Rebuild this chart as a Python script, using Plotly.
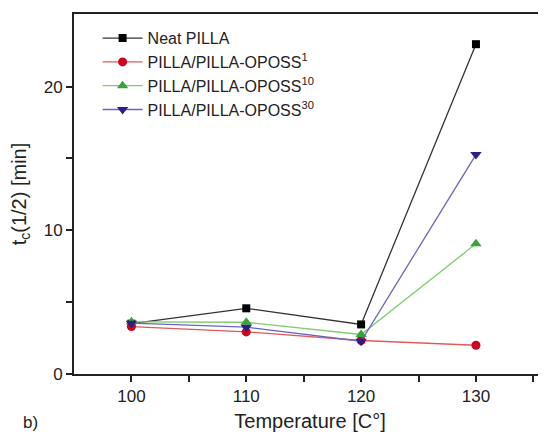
import plotly.graph_objects as go

temperature = [100, 110, 120, 130]
neat_pilla = [3.5, 4.57, 3.45, 22.95]
oposs_1 = [3.3, 2.93, 2.33, 2.0]
oposs_10 = [3.63, 3.6, 2.75, 9.06]
oposs_30 = [3.54, 3.26, 2.28, 15.27]

series = [
    ("Neat PILLA", neat_pilla, "#333333", "#000000", "square", 8),
    ("PILLA/PILLA-OPOSS<sup>1</sup>", oposs_1, "#e05a5a", "#d0021b", "circle", 9),
    ("PILLA/PILLA-OPOSS<sup>10</sup>", oposs_10, "#7fcc6e", "#3aa33a", "triangle-up", 10),
    ("PILLA/PILLA-OPOSS<sup>30</sup>", oposs_30, "#6a66bb", "#2b1f86", "triangle-down", 10),
]

fig = go.Figure()
for name, vals, lc, mc, sym, sz in series:
    fig.add_trace(go.Scatter(
        x=temperature, y=vals, name=name, mode="lines+markers",
        line=dict(color=lc, width=1.3),
        marker=dict(color=mc, symbol=sym, size=sz, line=dict(width=0)),
    ))

font = "Liberation Sans, Arial, sans-serif"
tick_col = "#222222"
fig.update_layout(
    width=538, height=424,
    margin=dict(l=63, r=0, t=6, b=52),
    paper_bgcolor="white", plot_bgcolor="white",
    font=dict(family=font, size=17, color=tick_col),
    showlegend=True,
    legend=dict(x=0.05, y=0.98, xanchor="left", yanchor="top",
                bgcolor="rgba(0,0,0,0)", font=dict(size=16),
                tracegroupgap=0, itemwidth=40),
    xaxis=dict(range=[95, 136.1], tickvals=[100, 110, 120, 130],
               showgrid=False, zeroline=False, showline=True,
               linecolor=tick_col, linewidth=2, mirror=True,
               ticks="outside", ticklen=6, tickwidth=2, tickcolor=tick_col,
               minor=dict(tickvals=[105, 115, 125, 135], ticks="outside",
                          ticklen=6, tickwidth=2, tickcolor=tick_col),
               title=dict(text="Temperature [C°]", standoff=12)),
    yaxis=dict(range=[0, 25.05], tickvals=[0, 10, 20],
               showgrid=False, zeroline=False, showline=True,
               linecolor=tick_col, linewidth=2,
               ticks="outside", ticklen=6, tickwidth=2, tickcolor=tick_col,
               minor=dict(tickvals=[5, 15], ticks="outside",
                          ticklen=6, tickwidth=2, tickcolor=tick_col),
               title=dict(text="t<sub>c</sub>(1/2) [min]", standoff=22)),
)
fig.add_annotation(text="b)", xref="paper", yref="paper",
                   x=(18 - 71) / 475, y=-(420 - 372) / 358,
                   xanchor="left", yanchor="middle", showarrow=False,
                   font=dict(size=17))

fig.write_html("out.html")
